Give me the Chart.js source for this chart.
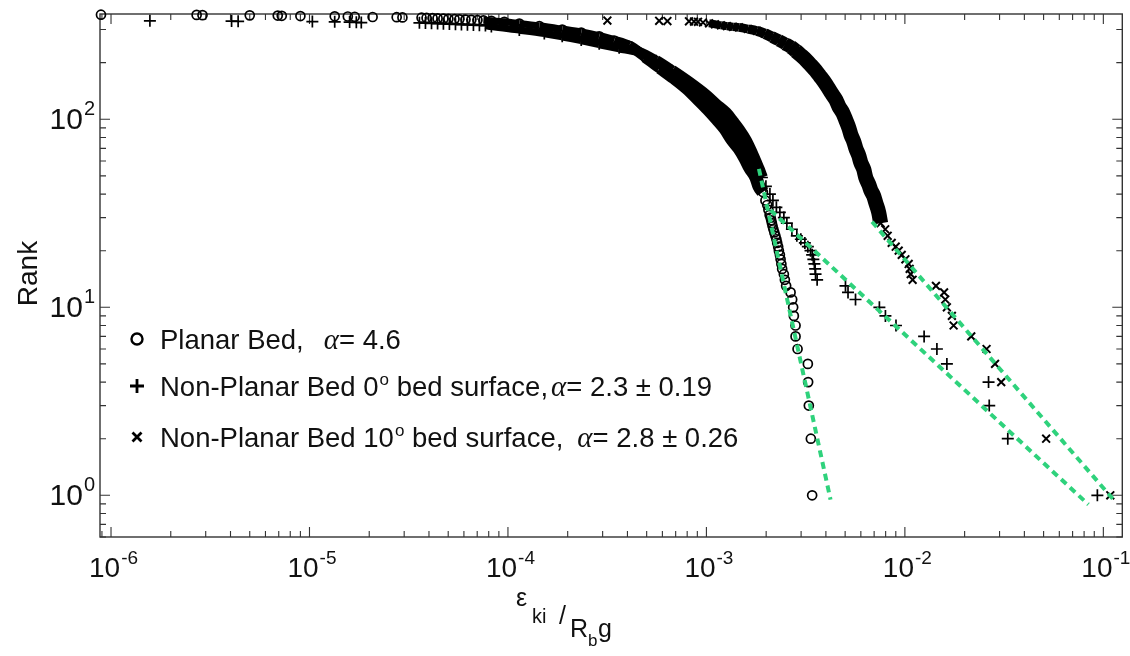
<!DOCTYPE html>
<html>
<head>
<meta charset="utf-8">
<script src="https://cdn.jsdelivr.net/npm/chart.js@4.4.1/dist/chart.umd.min.js"></script>
<style>
  html, body { margin: 0; padding: 0; background: #fff; }
  #wrap { width: 1130px; height: 656px; }
</style>
</head>
<body>
<div id="wrap"><canvas id="rankChart" width="1130" height="656"></canvas></div>
<script>
// rank vs normalised energy (rank N first, rank 1 last)
const planarRank = [360, 359, 358, 357, 356, 355, 354, 353, 352, 351, 350, 349, 348,
  347, 346, 345, 344, 343, 342, 341, 340, 339, 338, 337, 336,
  334, 330, 323, 313, 300, 289, 276, 262, 246, 215, 188, 166, 146, 128, 113, 100, 89, 78, 70, 62, 55, 49, 44, 41,
  37, 35, 33, 31, 30, 29, 28, 27, 26, 25, 24, 23, 22, 21, 20, 19, 18, 17, 16,
  15, 14, 13, 12, 11, 10, 9, 8, 7, 6, 5, 4, 3, 2, 1];
const planarEps = [8.9e-7, 2.70e-6, 2.89e-6, 5.00e-6, 6.92e-6, 7.25e-6, 9.00e-6, 1.34e-5, 1.56e-5, 1.69e-5, 2.08e-5, 2.75e-5, 2.94e-5,
  3.67e-5, 3.89e-5, 4.17e-5, 4.42e-5, 4.73e-5, 5.01e-5, 5.38e-5, 5.69e-5, 6.11e-5, 6.54e-5, 7.02e-5, 7.52e-5,
  8.25e-5, 9.59e-5, 1.141e-4, 1.439e-4, 1.877e-4, 2.340e-4, 2.883e-4, 3.43e-4, 4.08e-4, 4.91e-4, 5.84e-4, 6.87e-4,
  7.99e-4, 9.07e-4, 1.019e-3, 1.131e-3, 1.241e-3, 1.345e-3, 1.459e-3, 1.564e-3, 1.657e-3, 1.776e-3, 1.839e-3, 1.926e-3,
  1.983e-3, 2.025e-3, 2.053e-3, 2.082e-3, 2.106e-3, 2.121e-3, 2.138e-3, 2.155e-3, 2.175e-3, 2.200e-3, 2.226e-3,
  2.252e-3, 2.273e-3, 2.299e-3, 2.318e-3, 2.345e-3, 2.364e-3, 2.386e-3, 2.408e-3,
  2.456e-3, 2.485e-3, 2.522e-3, 2.655e-3, 2.705e-3, 2.736e-3, 2.758e-3, 2.813e-3, 2.813e-3, 2.879e-3,
  3.244e-3, 3.255e-3, 3.281e-3, 3.359e-3, 3.410e-3];

const bed0Rank = [334, 333, 332, 331, 330, 329, 328, 327,
  326, 325, 324, 323, 322, 321, 320, 319, 318, 317, 316, 315,
  311, 298, 286, 276, 264, 252, 240, 228, 205, 181, 157, 134, 120, 108, 97, 88, 77, 66, 59, 54, 49,
  44, 40, 37, 34, 32, 30, 28, 26, 24, 23, 22, 21, 20, 19, 18, 17, 16, 15, 14,
  13, 12, 11, 10, 9, 8, 7, 6, 5, 4, 3, 2, 1];
const bed0Eps = [1.57e-6, 4.05e-6, 4.37e-6, 1.034e-5, 1.34e-5, 1.593e-5, 1.722e-5, 1.824e-5,
  3.58e-5, 3.84e-5, 4.12e-5, 4.42e-5, 4.73e-5, 5.07e-5, 5.44e-5, 5.83e-5, 6.25e-5, 6.70e-5, 7.18e-5, 7.70e-5,
  8.25e-5, 1.141e-4, 1.525e-4, 1.877e-4, 2.340e-4, 2.883e-4, 3.634e-4, 4.58e-4, 5.58e-4, 6.71e-4, 8.17e-4,
  9.95e-4, 1.117e-3, 1.255e-3, 1.361e-3, 1.459e-3, 1.582e-3, 1.696e-3, 1.776e-3, 1.839e-3, 1.904e-3,
  1.994e-3, 2.089e-3, 2.163e-3, 2.252e-3, 2.345e-3, 2.456e-3, 2.543e-3, 2.696e-3, 2.855e-3, 2.991e-3,
  3.133e-3, 3.244e-3, 3.346e-3, 3.410e-3, 3.458e-3, 3.499e-3, 3.531e-3, 3.547e-3, 3.613e-3,
  5.02e-3, 5.17e-3, 5.64e-3, 7.44e-3, 7.98e-3, 9.02e-3, 1.25e-2, 1.45e-2, 1.628e-2, 2.64e-2, 2.661e-2, 3.30e-2, 9.33e-2];

const bed10Rank = [335, 334, 333, 332, 331,
  330, 327, 324, 320, 316, 313, 310, 308, 302, 295, 285, 274, 263, 252, 242, 231, 219, 207, 194, 181,
  170, 159, 148, 137, 127, 117, 108, 99, 90, 83, 76, 70, 64, 59, 54, 49, 45, 42, 39, 36, 32, 28,
  26, 24, 22, 21, 20, 19, 18, 17, 16, 15, 14, 13, 12, 11, 10, 9, 8, 7, 6, 5, 4, 2, 1];
const bed10Eps = [3.17e-4, 5.78e-4, 6.36e-4, 8.17e-4, 8.66e-4,
  9.07e-4, 9.61e-4, 1.031e-3, 1.105e-3, 1.184e-3, 1.269e-3, 1.361e-3, 1.459e-3, 1.619e-3, 1.797e-3,
  1.971e-3, 2.14e-3, 2.318e-3, 2.49e-3, 2.665e-3, 2.82e-3, 2.99e-3, 3.17e-3, 3.359e-3, 3.56e-3,
  3.727e-3, 3.91e-3, 4.09e-3, 4.28e-3, 4.49e-3, 4.65e-3, 4.87e-3, 5.04e-3, 5.22e-3, 5.34e-3, 5.53e-3,
  5.66e-3, 5.86e-3, 5.99e-3, 6.21e-3, 6.35e-3, 6.58e-3, 6.73e-3, 6.97e-3, 7.13e-3, 7.38e-3, 7.55e-3,
  7.96e-3, 8.19e-3, 8.58e-3, 8.99e-3, 9.31e-3, 9.64e-3, 1.006e-2, 1.045e-2, 1.057e-2, 1.070e-2, 1.094e-2,
  1.434e-2, 1.576e-2, 1.598e-2, 1.628e-2, 1.725e-2, 1.760e-2, 2.160e-2, 2.580e-2, 2.847e-2, 3.058e-2,
  5.15e-2, 0.1084];

// power law fits (green dashed), end points
const fitPlanarEps = [1.839e-3, 4.22e-3];
const fitPlanarRank = [54.5, 0.949];
const fitBed0Eps = [2.106e-3, 8.41e-2];
const fitBed0Rank = [32.8, 0.893];
const fitBed10Eps = [6.83e-3, 0.1123];
const fitBed10Rank = [28.5, 0.95];

// rank range where the markers pile up into a solid band
const planarBand = [41, 336];
const bed0Band = [49, 315];
const bed10Band = [28, 324];

const xTickValues = [1e-6, 1e-5, 1e-4, 1e-3, 1e-2, 1e-1];
const xTickExps = ['-6', '-5', '-4', '-3', '-2', '-1'];
const yTickValues = [1, 10, 100];
const yTickExps = ['0', '1', '2'];

const legendNames = ['Planar Bed,', 'Non-Planar Bed 0', 'Non-Planar Bed 10'];
const legendTails = ['', ' bed surface,', ' bed surface,'];
const legendAlpha = ['= 4.6', '= 2.3 \u00b1 0.19', '= 2.8 \u00b1 0.26'];

const GREEN = '#2fd27c';
const INK = '#111';
const SANS = '"Liberation Sans", Arial, Helvetica, sans-serif';

function pairs(xs, ranks) {
  return xs.map((x, i) => ({ x: x, y: ranks[i] }));
}
function bandOf(xs, ranks, range) {
  return pairs(xs, ranks).filter(p => p.y >= range[0] && p.y <= range[1]);
}

function markerSet(label, data, style, radius, width) {
  return {
    label: label, data: data, order: 1, clip: false,
    pointStyle: style, pointRadius: radius, pointBorderWidth: width,
    pointBorderColor: '#000', pointBackgroundColor: 'rgba(0,0,0,0)', showLine: false
  };
}
// the pile-up is thin along the flat top and widens on the steep part
function bandSet(data, thin, thick, hiRank, loRank) {
  const widthAt = r => {
    const t = Math.min(1, Math.max(0, (hiRank - r) / (hiRank - loRank)));
    return thin + (thick - thin) * t;
  };
  return {
    data: data, order: 2, clip: false, showLine: true, pointRadius: 0,
    borderColor: '#000', borderWidth: thick, cubicInterpolationMode: 'monotone',
    borderJoinStyle: 'round', borderCapStyle: 'butt',
    segment: { borderWidth: c => widthAt((c.p0.parsed.y + c.p1.parsed.y) / 2) }
  };
}
function fitSet(data) {
  return {
    data: data, order: 0, showLine: true, pointRadius: 0,
    borderColor: GREEN, borderWidth: 4, borderDash: [7, 5]
  };
}

function drawPow(ctx, base, exp, x, y, align, size, supSize, rise) {
  ctx.font = size + 'px ' + SANS;
  const wb = ctx.measureText(base).width;
  ctx.font = supSize + 'px ' + SANS;
  const we = ctx.measureText(exp).width;
  let left = align === 'center' ? x - (wb + we) / 2 : x - (wb + we);
  ctx.font = size + 'px ' + SANS;
  ctx.fillText(base, left, y);
  ctx.font = supSize + 'px ' + SANS;
  ctx.fillText(exp, left + wb + 1, y - rise);
}

const frameAndText = {
  id: 'frameAndText',
  beforeDatasetsDraw(chart) {
    const { ctx, chartArea: a, scales: { x, y } } = chart;
    ctx.save();
    ctx.strokeStyle = '#333';
    ctx.lineWidth = 1.4;
    ctx.strokeRect(a.left, a.top, a.right - a.left, a.bottom - a.top);
    ctx.lineWidth = 1.1;
    ctx.beginPath();
    for (let e = -7; e <= 0; e++) {
      for (let m = 1; m <= 9; m++) {
        const v = m * Math.pow(10, e);
        if (v < x.min || v > x.max) continue;
        const px = x.getPixelForValue(v);
        const len = m === 1 ? 10 : 6;
        ctx.moveTo(px, a.bottom); ctx.lineTo(px, a.bottom - len);
        ctx.moveTo(px, a.top); ctx.lineTo(px, a.top + len);
      }
    }
    for (let e = -1; e <= 2; e++) {
      for (let m = 1; m <= 9; m++) {
        const v = m * Math.pow(10, e);
        if (v < y.min || v > y.max) continue;
        const py = y.getPixelForValue(v);
        const len = m === 1 ? 10 : 6;
        ctx.moveTo(a.left, py); ctx.lineTo(a.left + len, py);
        ctx.moveTo(a.right, py); ctx.lineTo(a.right - len, py);
      }
    }
    ctx.stroke();
    ctx.restore();
  },
  afterDraw(chart) {
    const { ctx, chartArea: a, scales: { x, y } } = chart;
    ctx.save();
    ctx.fillStyle = INK;
    ctx.textBaseline = 'alphabetic';
    ctx.textAlign = 'left';

    xTickValues.forEach((v, i) => {
      drawPow(ctx, '10', xTickExps[i], x.getPixelForValue(v) + 2, a.bottom + 40, 'center', 28, 19, 13);
    });
    yTickValues.forEach((v, i) => {
      drawPow(ctx, '10', yTickExps[i], a.left - 6, y.getPixelForValue(v) + 10, 'right', 30, 20, 14);
    });

    // y title
    ctx.save();
    ctx.translate(a.left - 63, (a.top + a.bottom) / 2 - 2);
    ctx.rotate(-Math.PI / 2);
    ctx.font = '28px ' + SANS;
    ctx.textAlign = 'center';
    ctx.fillText('Rank', 0, 0);
    ctx.restore();

    // x title: eps_ki / (R_b g)
    const x0 = a.left + 416;
    ctx.font = '25px ' + SANS; ctx.fillText('\u03b5', x0, 606);
    ctx.font = '20px ' + SANS; ctx.fillText('ki', x0 + 16, 623);
    ctx.font = '25px ' + SANS; ctx.fillText('/', x0 + 43, 624);
    ctx.fillText('R', x0 + 54, 637);
    ctx.font = '17px ' + SANS; ctx.fillText('b', x0 + 72, 646);
    ctx.font = '25px ' + SANS; ctx.fillText('g', x0 + 82, 637);

    // legend
    const rowsY = [339, 386, 437];
    const gaps = [20, 3, 14];
    const mx = a.left + 37;
    ctx.strokeStyle = '#000';
    rowsY.forEach((ry, i) => {
      ctx.beginPath();
      if (i === 0) {
        ctx.lineWidth = 2.4;
        ctx.arc(mx, ry, 5.5, 0, Math.PI * 2);
      } else if (i === 1) {
        ctx.lineWidth = 2.8;
        ctx.moveTo(mx - 7, ry); ctx.lineTo(mx + 7, ry);
        ctx.moveTo(mx, ry - 7); ctx.lineTo(mx, ry + 7);
      } else {
        ctx.lineWidth = 2.8;
        ctx.moveTo(mx - 4.5, ry - 4.5); ctx.lineTo(mx + 4.5, ry + 4.5);
        ctx.moveTo(mx - 4.5, ry + 4.5); ctx.lineTo(mx + 4.5, ry - 4.5);
      }
      ctx.stroke();

      const base = ry + 9.5;
      let tx = a.left + 60;
      ctx.font = '27.5px ' + SANS;
      ctx.fillText(legendNames[i], tx, base);
      tx += ctx.measureText(legendNames[i]).width;
      if (legendTails[i]) {
        ctx.font = '17px ' + SANS;
        ctx.fillText('o', tx + 1, base - 11);
        tx += ctx.measureText('o').width + 1;
        ctx.font = '27.5px ' + SANS;
        ctx.fillText(legendTails[i], tx, base);
        tx += ctx.measureText(legendTails[i]).width;
      }
      tx += gaps[i];
      ctx.font = 'italic 29px "Liberation Serif", "Times New Roman", serif';
      ctx.fillText('\u03b1', tx, base);
      tx += ctx.measureText('\u03b1').width;
      ctx.font = '27.5px ' + SANS;
      ctx.fillText(legendAlpha[i], tx, base);
    });
    ctx.restore();
  }
};

const ctx = document.getElementById('rankChart').getContext('2d');

const config = {
  type: 'scatter',
  data: {
    datasets: [
      fitSet(pairs(fitPlanarEps, fitPlanarRank)),
      fitSet(pairs(fitBed0Eps, fitBed0Rank)),
      fitSet(pairs(fitBed10Eps, fitBed10Rank)),
      markerSet('Planar Bed', pairs(planarEps, planarRank), 'circle', 4.5, 1.7),
      markerSet('Non-Planar Bed 0\u00ba', pairs(bed0Eps, bed0Rank), 'cross', 6, 1.7),
      markerSet('Non-Planar Bed 10\u00ba', pairs(bed10Eps, bed10Rank), 'crossRot', 5.5, 2),
      bandSet(bandOf(planarEps, planarRank, planarBand), 7, 13, 320, 180),
      bandSet(bandOf(bed0Eps, bed0Rank, bed0Band), 7, 12, 300, 170),
      bandSet(bandOf(bed10Eps, bed10Rank, bed10Band), 8, 15, 315, 230)
    ]
  },
  options: {
    responsive: false,
    animation: false,
    devicePixelRatio: 1,
    events: [],
    layout: { padding: { left: 100, right: 6, top: 14, bottom: 119 } },
    plugins: { legend: { display: false }, tooltip: { enabled: false } },
    scales: {
      x: { type: 'logarithmic', min: 8.8e-7, max: 0.1246, display: false },
      y: { type: 'logarithmic', min: 0.63, max: 363, display: false }
    }
  },
  plugins: [frameAndText]
};

const rankChart = new Chart(ctx, config);
</script>
</body>
</html>
